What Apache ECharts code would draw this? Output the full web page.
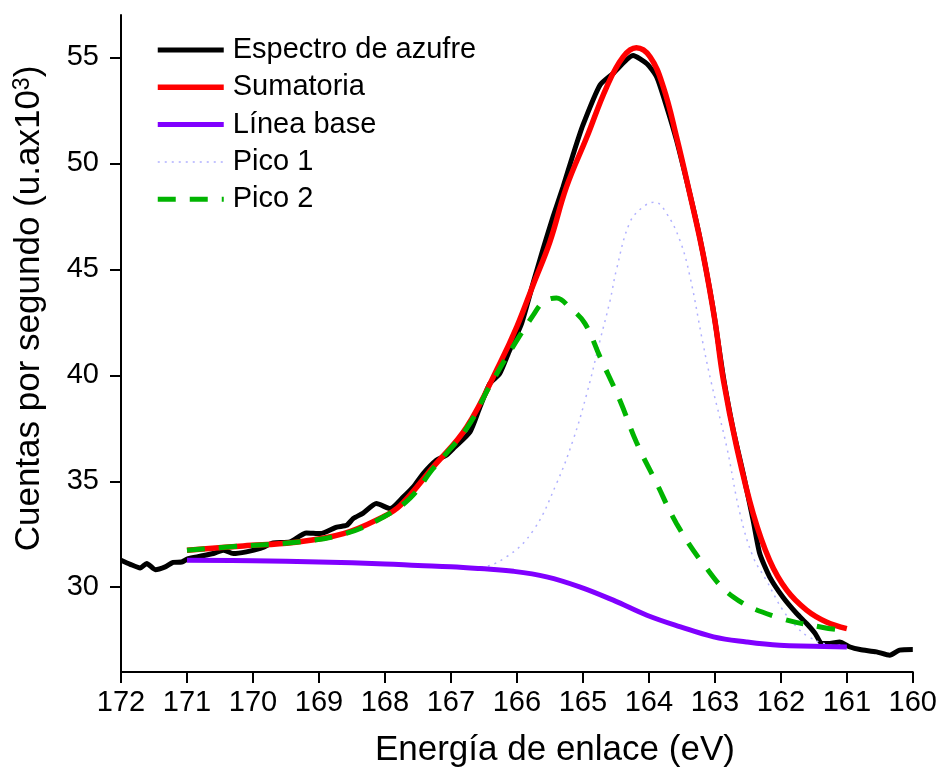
<!DOCTYPE html>
<html>
<head>
<meta charset="utf-8">
<script src="https://cdn.jsdelivr.net/npm/echarts@6/dist/echarts.min.js"></script>
<style>
html,body{margin:0;padding:0;background:#fff;}
#chart{width:940px;height:775px;}
</style>
</head>
<body>
<div id="chart"></div>
<script>
// ---- data ----
var seriesNames = ['Espectro de azufre', 'Sumatoria', 'Línea base', 'Pico 1', 'Pico 2'];
var yTickValues = [30, 35, 40, 45, 50, 55];

var espectro = [
  [172.0,31.27],[171.86,31.08],[171.71,30.91],[171.61,31.12],[171.48,30.83],[171.33,30.96],
  [171.21,31.17],[171.08,31.19],[170.98,31.35],[170.80,31.46],[170.60,31.59],[170.45,31.75],
  [170.30,31.59],[170.10,31.67],[169.89,31.83],[169.69,32.09],[169.44,32.14],[169.19,32.56],
  [168.98,32.53],[168.73,32.84],[168.58,32.92],[168.48,33.24],[168.33,33.50],[168.13,33.95],
  [167.92,33.71],[167.72,34.26],[167.57,34.73],[167.42,35.36],[167.22,35.99],[167.07,36.23],
  [166.94,36.62],[166.71,37.33],[166.56,38.50],[166.41,39.61],[166.26,40.08],[166.11,41.18],
  [165.93,42.44],[165.75,44.4],[165.6,46.0],[165.45,47.5],[165.30,48.9],[165.15,50.4],
  [165.00,51.8],[164.74,53.7],[164.54,54.25],[164.24,55.09],[164.03,54.70],[163.88,54.07],
  [163.73,52.66],[163.58,51.08],[163.38,48.57],[163.23,46.52],[163.03,43.2],[162.87,39.9],
  [162.72,37.41],[162.57,35.36],[162.42,33.16],[162.32,31.59],[162.17,30.49],[161.97,29.54],
  [161.76,28.76],[161.61,28.29],[161.48,27.82],[161.38,27.34],[161.26,27.34],[161.11,27.42],
  [160.95,27.18],[160.80,27.06],[160.55,26.95],[160.35,26.79],[160.20,27.03],[160.0,27.06]
];

var sumatoria = [
  [171.0,31.75],[170.15,31.95],[169.39,32.11],[168.63,32.53],[168.03,33.32],[167.77,33.85],
  [167.27,35.67],[166.76,37.56],[166.26,40.55],[166.0,42.3],[165.75,44.3],[165.5,46.3],
  [165.25,48.88],[164.94,51.24],[164.64,53.60],[164.39,55.02],[164.19,55.45],[163.98,55.02],
  [163.78,53.60],[163.58,51.24],[163.38,48.57],[163.18,45.74],[163.0,42.59],[162.87,39.76],
  [162.67,36.62],[162.42,33.48],[162.17,31.27],[161.91,29.86],[161.61,28.92],[161.31,28.36],
  [161.0,28.05]
];

var lineaBase = [
  [171.0,31.27],[170.0,31.25],[169.0,31.19],[168.0,31.1],[167.5,31.03],[167.0,30.97],
  [166.56,30.88],[166.05,30.75],[165.55,30.49],[165.05,30.02],[164.54,29.39],[164.03,28.68],
  [163.52,28.13],[163.02,27.66],[162.52,27.42],[162.02,27.26],[161.51,27.22],[161.0,27.18]
];

var pico1 = [
  [171.0,31.27],[169.0,31.18],[167.5,31.02],[166.6,30.95],[166.16,31.43],[165.75,32.69],
  [165.4,34.89],[165.15,36.93],[164.94,39.14],[164.74,41.65],[164.59,43.5],[164.49,45.0],
  [164.29,47.2],[164.09,47.94],[163.91,48.17],[163.73,47.63],[163.53,46.37],[163.38,44.7],
  [163.18,41.5],[163.05,39.6],[162.82,36.62],[162.62,33.48],[162.42,31.43],[162.22,30.33],
  [161.97,28.92],[161.76,28.13],[161.6,27.7],[161.3,27.3],[161.0,27.18]
];

var pico2 = [
  [171.0,31.75],[170.15,31.95],[169.39,32.11],[168.63,32.5],[168.03,33.3],[167.62,34.2],
  [167.27,35.6],[166.76,37.5],[166.41,39.5],[166.05,41.4],[165.76,42.8],[165.6,43.45],
  [165.4,43.65],[165.2,43.2],[164.97,42.45],[164.74,40.86],[164.44,38.82],[164.19,36.85],
  [163.88,34.89],[163.58,33.0],[163.18,31.12],[162.72,29.54],[162.07,28.6],[161.36,28.10],
  [161.0,27.95]
];

// ---- chart ----
var FONT = "'Liberation Sans', Arial, sans-serif";
var legendWidths = [5, 5.5, 5, 1.5, 5];
var chart = echarts.init(document.getElementById('chart'), null, {renderer: 'canvas'});
var option = {
  animation: false,
  backgroundColor: '#ffffff',
  grid: {left: 121, right: 27, top: 15, bottom: 103, containLabel: false},
  legend: {
    orient: 'vertical',
    left: 150,
    top: 30,
    itemWidth: 66,
    itemHeight: 20,
    itemGap: 7.3,
    data: seriesNames.map(function (n, i) { return {name: n, lineStyle: {width: legendWidths[i]}}; }),
    itemStyle: {opacity: 0},
    textStyle: {fontFamily: FONT, fontSize: 29, color: '#000', lineHeight: 30, padding: [0, 0, 0, 4]}
  },
  xAxis: {
    type: 'value',
    min: 160, max: 172, interval: 1, inverse: true,
    name: 'Energía de enlace (eV)',
    nameLocation: 'middle',
    nameGap: 61,
    nameTextStyle: {fontFamily: FONT, fontSize: 35, color: '#000', padding: [0, 0, 0, 76]},
    axisLine: {lineStyle: {color: '#000', width: 2}},
    axisTick: {inside: false, length: 11, lineStyle: {color: '#000', width: 2}},
    axisLabel: {fontFamily: FONT, fontSize: 29, color: '#000', margin: 16},
    splitLine: {show: false}
  },
  yAxis: {
    type: 'value',
    min: 26, max: 57,
    name: '{a|Cuentas por segundo (u.ax10}{s|3}{a|)}',
    nameLocation: 'middle',
    nameGap: 73,
    nameRotate: 90,
    nameTextStyle: {
      fontFamily: FONT, fontSize: 35, color: '#000', padding: [0, 0, 0, 70],
      rich: {
        a: {fontFamily: FONT, fontSize: 35, color: '#000'},
        s: {fontFamily: FONT, fontSize: 23, color: '#000', verticalAlign: 'top', padding: [0, 0, 14, 0]}
      }
    },
    axisLine: {show: true, lineStyle: {color: '#000', width: 2}},
    axisTick: {show: true, inside: false, length: 11, lineStyle: {color: '#000', width: 2}, customValues: yTickValues},
    axisLabel: {fontFamily: FONT, fontSize: 29, color: '#000', margin: 22, customValues: yTickValues},
    splitLine: {show: false}
  },
  series: [
    {name: seriesNames[0], type: 'line', data: espectro, symbol: 'none', smooth: 0.2,
     lineStyle: {color: '#000000', width: 5}, itemStyle: {color: '#000000'}, z: 2},
    {name: seriesNames[1], type: 'line', data: sumatoria, symbol: 'none', smooth: 0.4,
     lineStyle: {color: '#ff0000', width: 5.5}, itemStyle: {color: '#ff0000'}, z: 3},
    {name: seriesNames[3], type: 'line', data: pico1, symbol: 'none', smooth: 0.4,
     lineStyle: {color: '#b0b0ff', width: 1.5, type: [2, 5]}, itemStyle: {color: '#b0b0ff'}, z: 4},
    {name: seriesNames[2], type: 'line', data: lineaBase, symbol: 'none', smooth: 0.4,
     lineStyle: {color: '#8000ff', width: 5}, itemStyle: {color: '#8000ff'}, z: 5},
    {name: seriesNames[4], type: 'line', data: pico2, symbol: 'none', smooth: 0.4,
     lineStyle: {color: '#00b400', width: 5, type: [18, 14]}, itemStyle: {color: '#00b400'}, z: 6}
  ]
};
chart.setOption(option);
</script>
</body>
</html>
